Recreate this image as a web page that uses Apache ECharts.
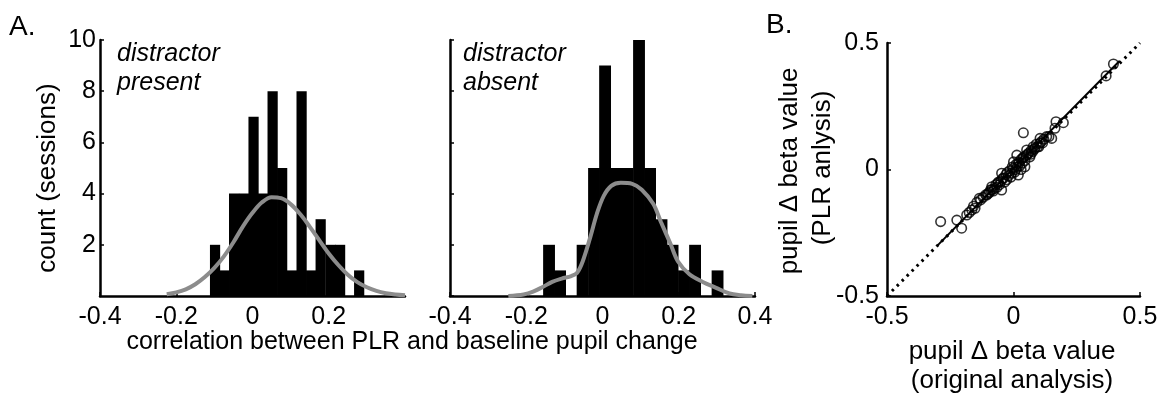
<!DOCTYPE html>
<html>
<head>
<meta charset="utf-8">
<script src="https://cdn.jsdelivr.net/npm/echarts/dist/echarts.min.js"></script>
<style>
  html, body { margin: 0; padding: 0; background: #fff; }
  #chart { width: 1162px; height: 396px; }
</style>
</head>
<body>
<div id="chart"></div>
<script>
// histogram, distractor present
const presentBinCenters = [-0.099, -0.074, -0.049, -0.023, 0.002, 0.027, 0.052, 0.077, 0.103, 0.128, 0.153, 0.178, 0.204, 0.229, 0.254, 0.279];
const presentCounts = [2, 1, 4, 4, 7, 4, 8, 5, 1, 8, 1, 3, 2, 2, 0, 1];
const presentBinWidth = 0.0252;
const presentFitX = [-0.225, -0.2, -0.175, -0.15, -0.125, -0.1, -0.075, -0.05, -0.025, 0, 0.025, 0.05, 0.075, 0.1, 0.125, 0.15, 0.175, 0.2, 0.225, 0.25, 0.275, 0.3, 0.325, 0.35, 0.375, 0.4];
const presentFitY = [0.07, 0.14, 0.26, 0.46, 0.74, 1.1, 1.55, 2.1, 2.72, 3.25, 3.66, 3.86, 3.82, 3.59, 3.2, 2.71, 2.18, 1.66, 1.21, 0.83, 0.54, 0.34, 0.2, 0.11, 0.06, 0.03];

// histogram, distractor absent
const absentBinCenters = [-0.141, -0.112, -0.082, -0.053, -0.023, 0.006, 0.036, 0.065, 0.095, 0.124, 0.154, 0.183, 0.213, 0.242, 0.272, 0.301];
const absentCounts = [2, 1, 0, 2, 5, 9, 5, 5, 10, 5, 3, 2, 1, 2, 0, 1];
const absentBinWidth = 0.0295;
const absentFitX = [-0.247, -0.207, -0.182, -0.157, -0.132, -0.107, -0.082, -0.067, -0.052, -0.032, -0.015, 0.003, 0.023, 0.048, 0.078, 0.103, 0.133, 0.153, 0.178, 0.198, 0.228, 0.263, 0.298, 0.333, 0.363, 0.393];
const absentFitY = [0, 0.06, 0.17, 0.35, 0.55, 0.68, 0.78, 0.9, 1.35, 2.3, 3.2, 3.9, 4.3, 4.42, 4.38, 4.15, 3.6, 2.9, 2.05, 1.35, 0.85, 0.55, 0.32, 0.1, 0.03, 0];

// scatter, original vs PLR analysis
const originalBeta = [0.395, 0.366, 0.197, 0.168, 0.164, 0.131, 0.151, 0.039, 0.105, 0.105, 0.078, 0.09, 0.052, 0.045, 0.013, 0.019,
  -0.288, -0.224, -0.205, -0.185, -0.175, -0.165, -0.152, -0.135, -0.106, -0.12, -0.086, -0.08, -0.047, -0.047, -0.027, -0.007,
  -0.1, -0.095, -0.09, -0.075, -0.07, -0.065, -0.06, -0.055, -0.05, -0.04, -0.035, -0.03, -0.02, -0.015, -0.01, 0, 0.005, 0.01,
  0.015, 0.02, 0.025, 0.03, 0.035, 0.04, 0.045, 0.05, 0.06, 0.065, 0.07, 0.075, 0.085, 0.095, 0.11, 0.12, -0.13, -0.145, 0, 0.03,
  -0.11, -0.085, -0.062, -0.043, -0.025, -0.005, 0.008, 0.022, 0.037, 0.055, 0.068, 0.082, 0.1, 0.115, -0.158, 0.14];
const plrBeta = [0.417, 0.37, 0.185, 0.189, 0.163, 0.13, 0.123, 0.145, 0.123, 0.104, 0.09, 0.1, 0.077, 0.011, 0.057, -0.022,
  -0.206, -0.2, -0.232, -0.18, -0.17, -0.16, -0.153, -0.114, -0.101, -0.11, -0.068, -0.085, -0.081, -0.015, -0.041, -0.015,
  -0.095, -0.09, -0.08, -0.075, -0.06, -0.07, -0.05, -0.06, -0.045, -0.035, -0.05, -0.02, -0.025, -0.005, -0.03, 0.005, -0.01, 0.02,
  0.01, 0.03, 0.015, 0.04, 0.025, 0.05, 0.035, 0.055, 0.065, 0.05, 0.075, 0.07, 0.085, 0.09, 0.11, 0.12, -0.12, -0.13, 0.03, 0,
  -0.1, -0.08, -0.055, -0.035, -0.012, 0.01, 0.0, 0.025, 0.045, 0.06, 0.06, 0.08, 0.09, 0.105, -0.145, 0.13];
const unityLine = [[-0.5, -0.5], [0.5, 0.5]];
const fitLine = [[-0.3, -0.3], [0.42, 0.43]];

const FONT = '"Liberation Sans", Arial, Helvetica, sans-serif';
const chart = echarts.init(document.getElementById('chart'));

const fmt = v => (Math.abs(v) < 1e-9 ? '0' : String(+v.toFixed(1)));

function xAxisCfg(grid, min, max, interval, showMax) {
  return {
    type: 'value', gridIndex: grid, min: min, max: max, interval: interval,
    axisLine: { show: true, onZero: false, lineStyle: { color: '#000', width: 2.5 } },
    axisTick: { show: true, inside: true, length: 4, lineStyle: { color: '#000', width: 1.5 } },
    axisLabel: { color: '#000', fontSize: 25, fontFamily: FONT, margin: 9, showMaxLabel: showMax, formatter: fmt },
    splitLine: { show: false }
  };
}
function yAxisCfg(grid, min, max, interval, labels, showMin, margin) {
  return {
    type: 'value', gridIndex: grid, min: min, max: max, interval: interval,
    axisLine: { show: true, onZero: false, lineStyle: { color: '#000', width: 2.5 } },
    axisTick: { show: true, inside: true, length: 4, lineStyle: { color: '#000', width: 1.5 } },
    axisLabel: { show: labels, color: '#000', fontSize: 25, fontFamily: FONT, margin: margin, showMinLabel: showMin, formatter: fmt },
    splitLine: { show: false }
  };
}

function histSeries(idx, centers, counts, binWidth) {
  return {
    type: 'custom', xAxisIndex: idx, yAxisIndex: idx,
    data: centers.map((c, i) => [c, counts[i]]),
    encode: { x: 0, y: 1 },
    renderItem: function (params, api) {
      const c = api.value(0), n = api.value(1);
      const p0 = api.coord([c - binWidth / 2, n]);
      const p1 = api.coord([c + binWidth / 2, 0]);
      return {
        type: 'rect',
        shape: { x: p0[0], y: p0[1], width: p1[0] - p0[0] + 0.6, height: p1[1] - p0[1] },
        style: { fill: '#000' }
      };
    },
    z: 2
  };
}
function fitSeries(idx, xs, ys) {
  return {
    type: 'line', xAxisIndex: idx, yAxisIndex: idx,
    data: xs.map((x, i) => [x, ys[i]]),
    smooth: 0.35, showSymbol: false, symbol: 'none',
    lineStyle: { color: '#8c8c8c', width: 4 },
    z: 5
  };
}

function txt(text, x, y, size, opts) {
  return Object.assign({
    type: 'text', x: x, y: y,
    style: Object.assign({ text: text, fontSize: size, fontFamily: FONT, fill: '#000', align: 'left', verticalAlign: 'middle' }, (opts && opts.style) || {})
  }, (opts && opts.el) || {});
}

chart.setOption({
  animation: false,
  backgroundColor: '#fff',
  grid: [
    { left: 100, top: 40, width: 305, height: 256 },
    { left: 450, top: 40, width: 305, height: 256 },
    { left: 887, top: 43, width: 253, height: 253 }
  ],
  xAxis: [
    xAxisCfg(0, -0.4, 0.4, 0.2, false),
    xAxisCfg(1, -0.4, 0.4, 0.2, true),
    xAxisCfg(2, -0.5, 0.5, 0.5, true)
  ],
  yAxis: [
    yAxisCfg(0, 0, 10, 2, true, false, 4),
    yAxisCfg(1, 0, 10, 2, false, false, 4),
    yAxisCfg(2, -0.5, 0.5, 0.5, true, true, 8)
  ],
  series: [
    histSeries(0, presentBinCenters, presentCounts, presentBinWidth),
    fitSeries(0, presentFitX, presentFitY),
    histSeries(1, absentBinCenters, absentCounts, absentBinWidth),
    fitSeries(1, absentFitX, absentFitY),
    {
      type: 'line', xAxisIndex: 2, yAxisIndex: 2, data: unityLine, showSymbol: false, symbol: 'none',
      lineStyle: { color: '#000', width: 3, type: [2.5, 4.5], cap: 'butt' }, z: 2
    },
    {
      type: 'line', xAxisIndex: 2, yAxisIndex: 2, data: fitLine, showSymbol: false, symbol: 'none',
      lineStyle: { color: '#000', width: 2 }, z: 3
    },
    {
      type: 'scatter', xAxisIndex: 2, yAxisIndex: 2,
      data: originalBeta.map((x, i) => [x, plrBeta[i]]),
      symbol: 'circle', symbolSize: 9.5,
      itemStyle: { color: 'rgba(255,255,255,0)', borderColor: '#000', borderWidth: 1.6 },
      z: 4
    }
  ],
  graphic: [
    txt('A.', 9, 27, 28),
    txt('B.', 766, 25, 28),
    txt('distractor\npresent', 117, 40, 25, { style: { fontStyle: 'italic', verticalAlign: 'top', lineHeight: 29 } }),
    txt('distractor\nabsent', 463, 40, 25, { style: { fontStyle: 'italic', verticalAlign: 'top', lineHeight: 29 } }),
    txt('count (sessions)', 48, 178, 26, { style: { align: 'center' }, el: { rotation: Math.PI / 2 } }),
    txt('correlation between PLR and baseline pupil change', 412, 342, 25, { style: { align: 'center' } }),
    txt('pupil \u0394 beta value', 790, 171, 26, { style: { align: 'center' }, el: { rotation: Math.PI / 2 } }),
    txt('(PLR anlysis)', 823, 168, 26, { style: { align: 'center' }, el: { rotation: Math.PI / 2 } }),
    txt('pupil \u0394 beta value', 1012, 352, 26, { style: { align: 'center' } }),
    txt('(original analysis)', 1012, 381, 26, { style: { align: 'center' } })
  ]
});
</script>
</body>
</html>
